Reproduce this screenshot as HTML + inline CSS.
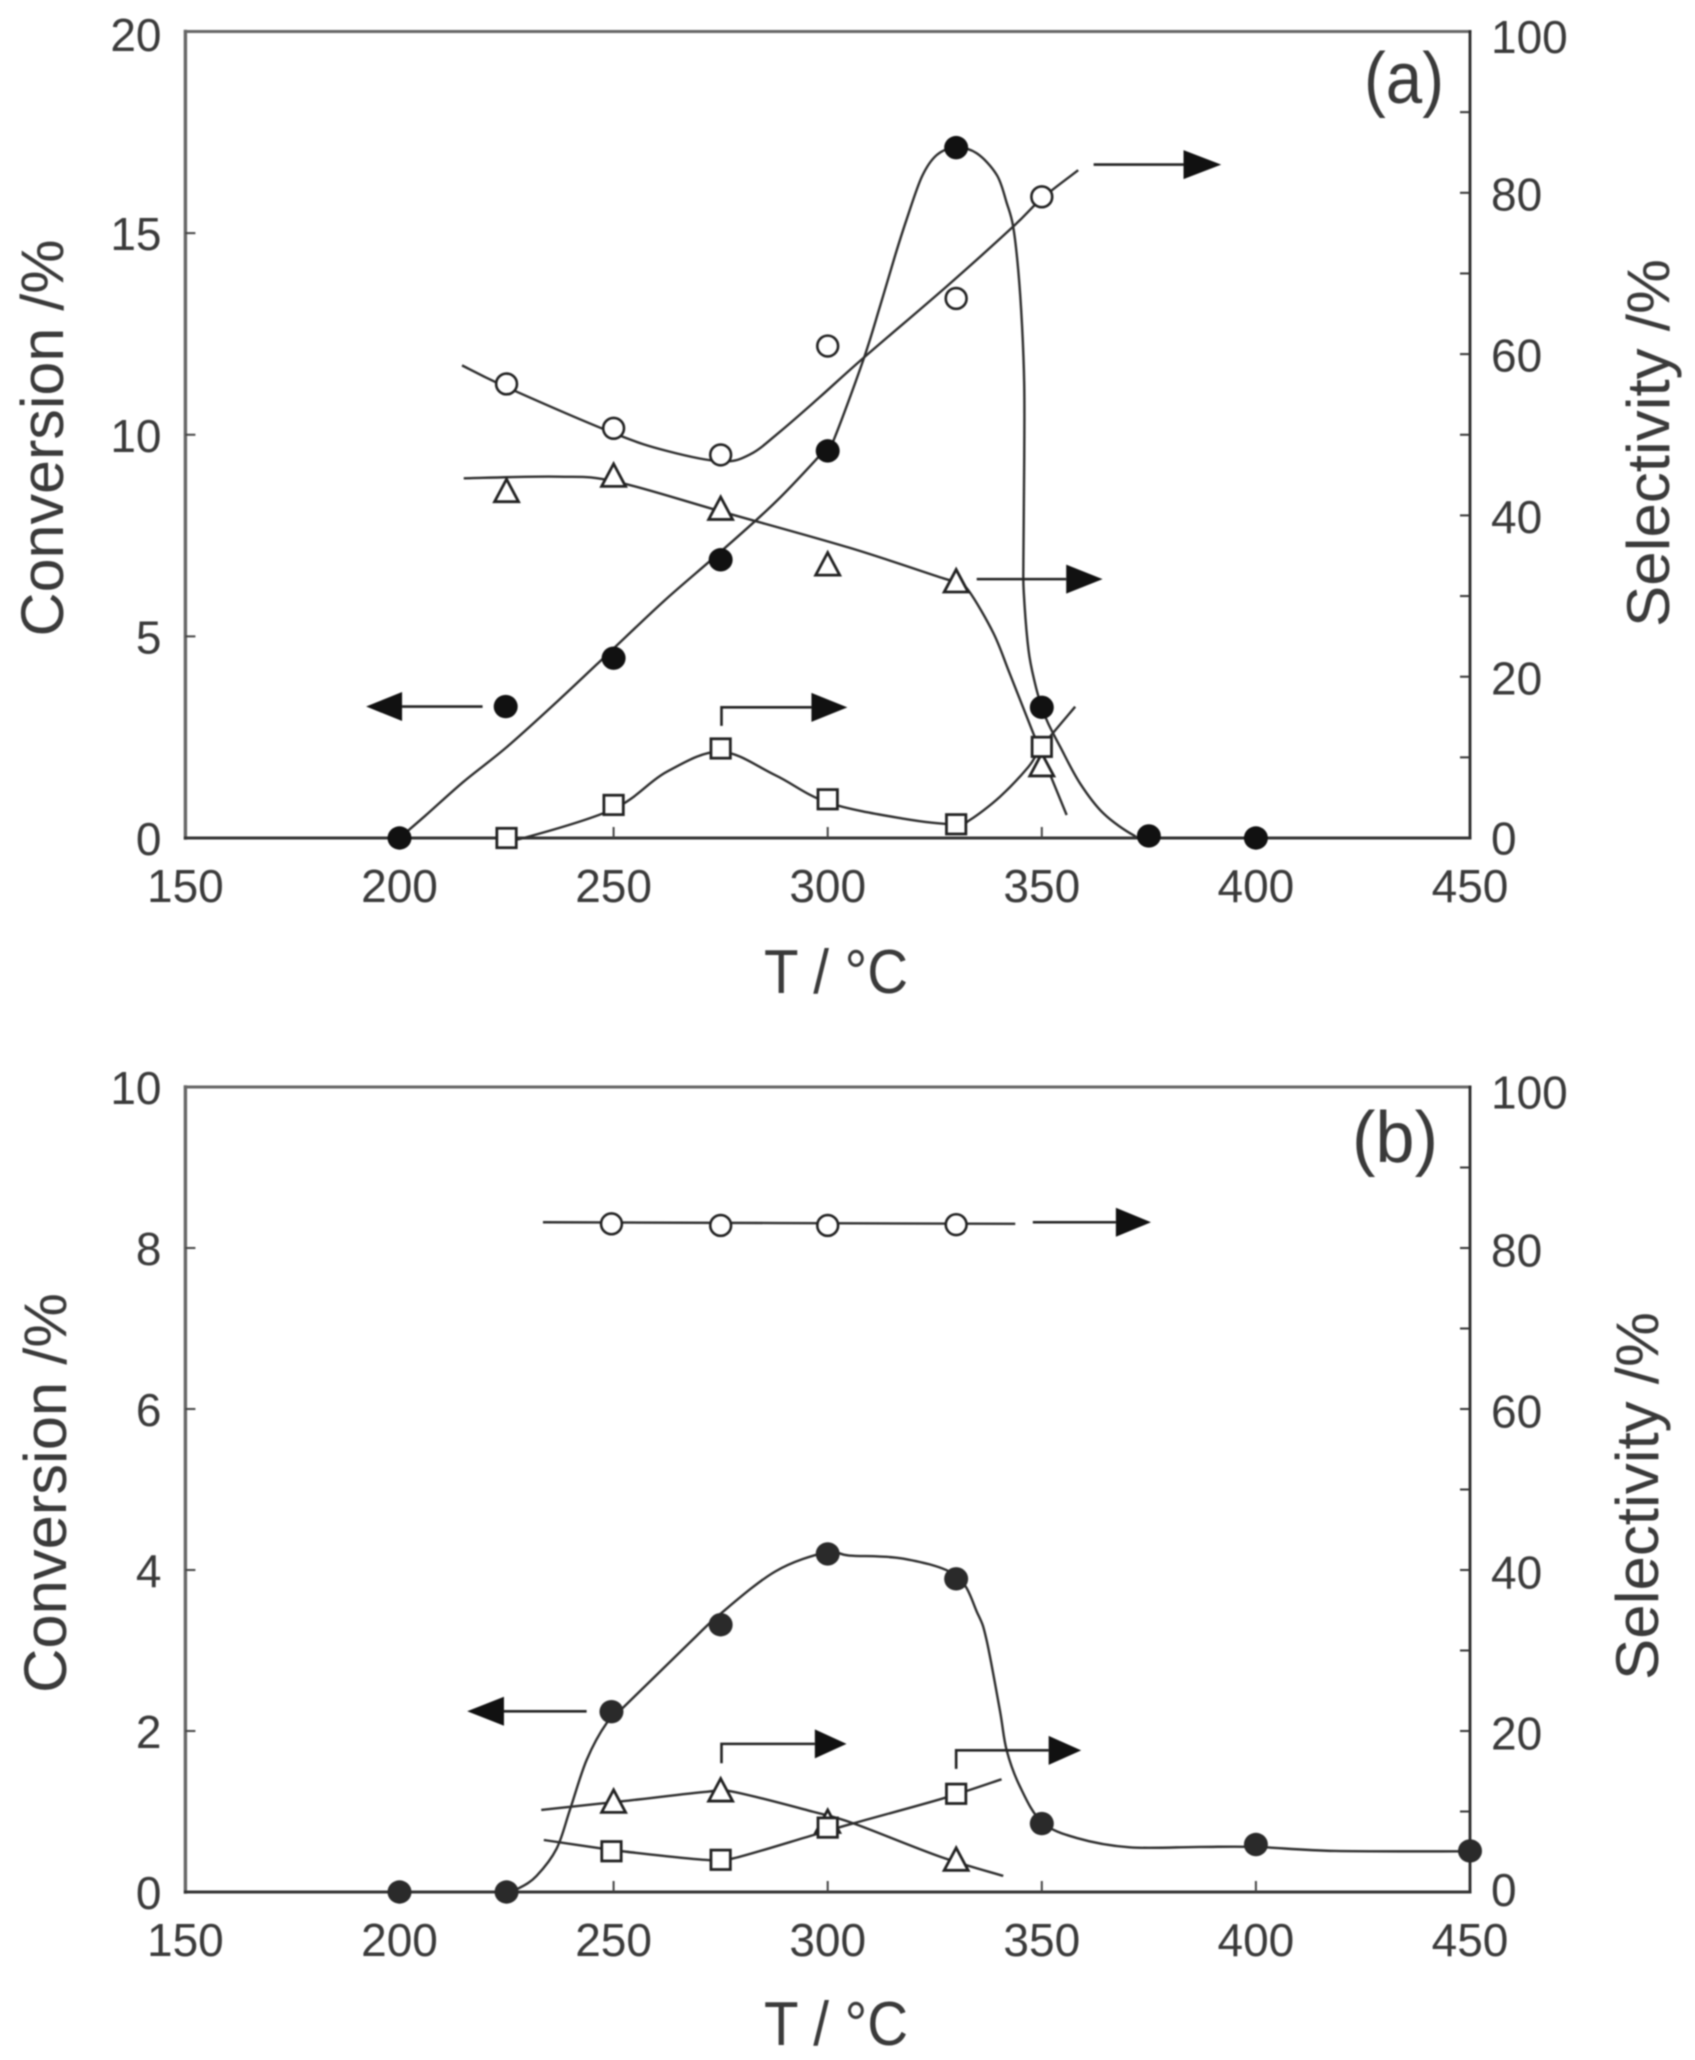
<!DOCTYPE html>
<html lang="en">
<head>
<meta charset="utf-8">
<title>Conversion and selectivity vs temperature</title>
<style>
  html, body { margin: 0; padding: 0; background: #fff; }
  body { width: 1695px; height: 2060px; overflow: hidden; }
  svg { display: block; filter: blur(0.7px); }
  text { font-family: "Liberation Sans", sans-serif; fill: #3a3a3a; }
</style>
</head>
<body>
<svg id="figure" xmlns="http://www.w3.org/2000/svg" width="1695" height="2060" viewBox="0 0 1695 2060">
  <rect x="0" y="0" width="1695" height="2060" fill="#fff"/>

  <text transform="translate(63,438) rotate(-90)" text-anchor="middle" font-size="60" textLength="397" lengthAdjust="spacingAndGlyphs">Conversion /%</text>
  <text transform="translate(1669,443) rotate(-90)" text-anchor="middle" font-size="60" textLength="368" lengthAdjust="spacingAndGlyphs">Selectivity /%</text>
  <text x="836" y="993" text-anchor="middle" font-size="62" textLength="144" lengthAdjust="spacingAndGlyphs">T / °C</text>
  <text x="1404" y="103" text-anchor="middle" font-size="72" textLength="80" lengthAdjust="spacingAndGlyphs">(a)</text>

  <text transform="translate(66,1493) rotate(-90)" text-anchor="middle" font-size="60" textLength="400" lengthAdjust="spacingAndGlyphs">Conversion /%</text>
  <text transform="translate(1658,1496) rotate(-90)" text-anchor="middle" font-size="60" textLength="368" lengthAdjust="spacingAndGlyphs">Selectivity /%</text>
  <text x="836" y="2045" text-anchor="middle" font-size="62" textLength="144" lengthAdjust="spacingAndGlyphs">T / °C</text>
  <text x="1395" y="1162" text-anchor="middle" font-size="72" textLength="86" lengthAdjust="spacingAndGlyphs">(b)</text>
</svg>

<script>
// ---- Axis tick labels ----
const xTickLabels = [150, 200, 250, 300, 350, 400, 450];
const xInnerTicks = [200, 250, 300, 350, 400];
const aLeftTicks = [0, 5, 10, 15, 20];
const bLeftTicks = [0, 2, 4, 6, 8, 10];
const rightTicks = [0, 20, 40, 60, 80, 100];
const rightMinorTicks = [10, 30, 50, 70, 90];

// ---- Panel (a) markers ----
const aConvT = [200, 250, 275, 300, 330, 350, 375, 400];
const aConvValues = [0, 4.46, 6.9, 9.6, 17.12, 3.24, 0.05, 0];
const aCircleT = [225, 250, 275, 300, 330, 350];
const aCircleValues = [56.3, 50.8, 47.5, 61, 66.9, 79.5];
const aTriangleT = [225, 250, 275, 300, 330, 350];
const aTriangleValues = [43, 44.9, 40.8, 33.9, 31.8, 9];
const aSquareT = [225, 250, 275, 300, 330, 350];
const aSquareValues = [0, 4.1, 11.1, 4.8, 1.7, 11.3];

// ---- Panel (a) fitted curves ----
const aConvCurveT = [200, 206, 215, 225, 237, 250, 262, 275, 288, 300, 301.7, 308.3, 312.2, 315.7, 318.4, 322, 325.5, 329.9, 334.8, 339.5, 341.8, 343.3, 344.5, 345.4, 345.9, 345.9, 345.7, 345.8, 346.9, 348.4, 350, 351.5, 354.3, 358.9, 364.4, 371.4, 375, 400];
const aConvCurveValues = [0, 0.55, 1.4, 2.25, 3.4, 4.7, 5.9, 7.1, 8.35, 9.7, 9.95, 11.85, 13.18, 14.43, 15.33, 16.4, 16.94, 17.12, 16.98, 16.44, 15.75, 15.17, 14.08, 12.68, 11.2, 9.46, 6.89, 6.07, 4.66, 3.84, 3.24, 2.84, 2.26, 1.36, 0.61, 0.07, 0, 0];
const aCircleCurveT = [214.6, 225, 250, 262.4, 275.2, 282, 288.9, 298, 308.3, 327.8, 343.3, 350, 358.5];
const aCircleCurveValues = [58.6, 55.9, 50.2, 48, 46.7, 47.6, 50.4, 54.6, 59.5, 68.4, 75.8, 79.3, 82.8];
const aTriangleCurveT = [215, 237, 250.4, 275.7, 305, 327, 330, 333, 338.7, 342.5, 348, 355.8];
const aTriangleCurveValues = [44.6, 44.8, 44.2, 40.4, 36, 32.2, 31.8, 30.6, 25.4, 20.4, 13, 2.85];
const aSquareCurveT = [225, 229, 250, 262.4, 275, 287.7, 300, 317.7, 330, 333.2, 340.2, 346.9, 350, 357.8];
const aSquareCurveValues = [0, 0, 3.6, 8.2, 10.7, 7.8, 4.4, 2.4, 1.7, 2.23, 5.1, 8.84, 11.32, 16.28];

// ---- Panel (b) markers ----
const bConvT = [200, 225, 249.5, 275, 300, 330, 350, 400, 450];
const bConvValues = [0, 0, 2.24, 3.32, 4.2, 3.89, 0.85, 0.59, 0.51];
const bCircleT = [249.5, 275, 300, 330];
const bCircleValues = [83, 82.8, 82.8, 82.9];
const bTriangleT = [250, 275, 300, 330];
const bTriangleValues = [11.2, 12.6, 8.7, 4];
const bSquareT = [249.5, 275, 300, 330];
const bSquareValues = [5.06, 4, 8, 12.2];

// ---- Panel (b) fitted curves ----
const bConvCurveT = [225, 228, 232, 236.7, 239.8, 243.7, 248.4, 252.4, 268, 274.6, 287.7, 299.7, 305, 317.7, 330, 335, 337.1, 340.2, 341.8, 344.9, 350, 358.2, 370.5, 386.9, 400, 418.5, 450];
const bConvCurveValues = [0, 0.05, 0.2, 0.54, 1.02, 1.64, 2.1, 2.3, 3.11, 3.44, 3.98, 4.22, 4.18, 4.14, 3.93, 3.46, 3.13, 2.26, 1.76, 1.31, 0.87, 0.67, 0.555, 0.56, 0.56, 0.51, 0.505];
const bCircleCurveT = [233.5, 343.8];
const bCircleCurveValues = [83.2, 83];
const bTriangleCurveT = [233.1, 253, 271.7, 278, 296.6, 306, 326.2, 341];
const bTriangleCurveValues = [10.2, 11.33, 12.45, 12.45, 9.97, 8.53, 4.4, 2];
const bSquareCurveT = [233.7, 246.9, 253, 271.7, 278, 296.6, 306, 327, 340.6];
const bSquareCurveValues = [6.46, 5.43, 5, 3.98, 4.18, 7.07, 8.53, 11.64, 14];

// ---- Drawing ----
const SVG_NS = 'http://www.w3.org/2000/svg';
const svg = document.getElementById('figure');
const plotLeft = 185.4;
const plotRight = 1470;
const xMin = 150;
const xMax = 450;

function node(tag, attrs, parent) {
  const el = document.createElementNS(SVG_NS, tag);
  for (const k in attrs) el.setAttribute(k, attrs[k]);
  (parent || svg).appendChild(el);
  return el;
}

function xScale(t) {
  return plotLeft + (t - xMin) * (plotRight - plotLeft) / (xMax - xMin);
}

function makePanel(top, bottom, leftMax) {
  return {
    top: top,
    bottom: bottom,
    yLeft: function (v) { return bottom - v * (bottom - top) / leftMax; },
    yRight: function (v) { return bottom - v * (bottom - top) / 100; }
  };
}

function smoothPath(ts, vs, yFn) {
  const p = ts.map(function (t, i) { return [xScale(t), yFn(vs[i])]; });
  let d = 'M' + p[0][0].toFixed(2) + ' ' + p[0][1].toFixed(2);
  for (let i = 0; i < p.length - 1; i++) {
    const p0 = p[Math.max(i - 1, 0)];
    const p1 = p[i];
    const p2 = p[i + 1];
    const p3 = p[Math.min(i + 2, p.length - 1)];
    const c1x = p1[0] + (p2[0] - p0[0]) / 6;
    const c1y = p1[1] + (p2[1] - p0[1]) / 6;
    const c2x = p2[0] - (p3[0] - p1[0]) / 6;
    const c2y = p2[1] - (p3[1] - p1[1]) / 6;
    d += 'C' + c1x.toFixed(2) + ' ' + c1y.toFixed(2) + ' ' + c2x.toFixed(2) + ' ' + c2y.toFixed(2) + ' ' + p2[0].toFixed(2) + ' ' + p2[1].toFixed(2);
  }
  return d;
}

function drawCurve(name, ts, vs, yFn) {
  const el = node('path', { d: smoothPath(ts, vs, yFn), fill: 'none', stroke: '#2e2e2e', 'stroke-width': 2.4 });
  
  
}

function drawMarkers(name, shape, ts, vs, yFn, fillColor) {
  ts.forEach(function (t, i) {
    const cx = xScale(t);
    const cy = yFn(vs[i]);
    let el;
    if (shape === 'circle') {
      el = node('ellipse', { cx: cx, cy: cy, rx: 10.4, ry: 10.4, fill: '#fff', stroke: '#222', 'stroke-width': 2.6 });
    } else if (shape === 'disc') {
      el = node('ellipse', { cx: cx, cy: cy, rx: 12, ry: 11.7, fill: fillColor });
    } else if (shape === 'square') {
      el = node('rect', { x: cx - 9.7, y: cy - 9.7, width: 19.4, height: 19.4, fill: '#fff', stroke: '#222', 'stroke-width': 2.8 });
    } else {
      const pts = (cx - 12) + ',' + (cy + 10.5) + ' ' + (cx + 12) + ',' + (cy + 10.5) + ' ' + cx + ',' + (cy - 12);
      el = node('polygon', { points: pts, fill: '#fff', stroke: '#222', 'stroke-width': 2.8, 'stroke-linejoin': 'miter' });
    }
    
    
  });
}

function drawArrow(name, tailT, baseT, tipT, level, yFn, elbowLevel) {
  const g = node('g', {});
  
  
  const y = yFn(level);
  let d = 'M' + xScale(tailT) + ' ' + y + 'L' + xScale(baseT) + ' ' + y;
  if (elbowLevel !== undefined) {
    d = 'M' + xScale(tailT) + ' ' + yFn(elbowLevel) + 'L' + xScale(tailT) + ' ' + y + 'L' + xScale(baseT) + ' ' + y;
  }
  node('path', { d: d, fill: 'none', stroke: '#222', 'stroke-width': 2.6 }, g);
  const bx = xScale(baseT);
  const pts = bx + ',' + (y - 14.5) + ' ' + bx + ',' + (y + 14.5) + ' ' + xScale(tipT) + ',' + y;
  node('polygon', { points: pts, fill: '#111' }, g);
}

function label(name, text, x, y, anchor) {
  const el = node('text', { x: x, y: y, 'text-anchor': anchor, 'font-size': 46, dy: '0.35em' });
  el.textContent = text;
  
  
}

function drawFrame(prefix, panel, leftTicks, leftMax, leftTopShift, rightShift, rightZeroShift) {
  const frame = [
    ['top', plotLeft, panel.top, plotRight, panel.top, '#666', 3],
    ['left', plotLeft, panel.top, plotLeft, panel.bottom, '#666', 3.4],
    ['right', plotRight, panel.top, plotRight, panel.bottom, '#2a2a2a', 2.8],
    ['bottom', plotLeft, panel.bottom, plotRight, panel.bottom, '#333', 3]
  ];
  frame.forEach(function (f) {
    const el = node('line', { x1: f[1], y1: f[2], x2: f[3], y2: f[4], stroke: f[5], 'stroke-width': f[6], 'stroke-linecap': 'square' });
    
    
  });
  xInnerTicks.forEach(function (t) {
    const el = node('line', { x1: xScale(t), y1: panel.bottom, x2: xScale(t), y2: panel.bottom - 11, stroke: '#444', 'stroke-width': 2 });
    
    
  });
  xTickLabels.forEach(function (t) {
    label(prefix + '-x-tick-label', String(t), xScale(t), panel.bottom + 48, 'middle');
  });
  leftTicks.forEach(function (v) {
    const y = panel.yLeft(v);
    if (v !== 0 && v !== leftMax) {
      const el = node('line', { x1: plotLeft, y1: y, x2: plotLeft + 10, y2: y, stroke: '#444', 'stroke-width': 2 });
      
      
    }
    label(prefix + '-left-tick-label', String(v), 161.5, y + 1 + (v === leftMax ? leftTopShift : 0), 'end');
  });
  rightTicks.forEach(function (v) {
    const y = panel.yRight(v);
    if (v !== 0 && v !== 100) {
      const el = node('line', { x1: plotRight, y1: y, x2: plotRight - 10, y2: y, stroke: '#333', 'stroke-width': 2 });
      
      
    }
    const shift = v === 100 ? 5.6 : (v === 0 ? rightZeroShift : rightShift);
    label(prefix + '-right-tick-label', String(v), 1491, y + shift, 'start');
  });
  rightMinorTicks.forEach(function (v) {
    const y = panel.yRight(v);
    const el = node('line', { x1: plotRight, y1: y, x2: plotRight - 10, y2: y, stroke: '#333', 'stroke-width': 2 });
    
    
  });
}

// Panel (a)
const panelA = makePanel(31.5, 838, 20);
drawFrame('panel-a', panelA, aLeftTicks, 20, 2.6, 1.5, 0.4);
drawCurve('panel-a-conversion-curve', aConvCurveT, aConvCurveValues, panelA.yLeft);
drawCurve('panel-a-circle-curve', aCircleCurveT, aCircleCurveValues, panelA.yRight);
drawCurve('panel-a-triangle-curve', aTriangleCurveT, aTriangleCurveValues, panelA.yRight);
drawCurve('panel-a-square-curve', aSquareCurveT, aSquareCurveValues, panelA.yRight);
drawMarkers('panel-a-circle-point', 'circle', aCircleT, aCircleValues, panelA.yRight);
drawMarkers('panel-a-triangle-point', 'triangle', aTriangleT, aTriangleValues, panelA.yRight);
drawMarkers('panel-a-square-point', 'square', aSquareT, aSquareValues, panelA.yRight);
drawMarkers('panel-a-conversion-point', 'disc', aConvT, aConvValues, panelA.yLeft, '#111');
drawMarkers('panel-a-conversion-key-marker', 'disc', [224.8], [3.26], panelA.yLeft, '#111');
drawArrow('panel-a-conversion-arrow', 219.4, 200.6, 192.2, 3.26, panelA.yLeft);
drawArrow('panel-a-square-arrow', 275.2, 296.2, 304.6, 16.2, panelA.yRight, 13.9);
drawArrow('panel-a-triangle-arrow', 334.8, 355.7, 364.2, 32.1, panelA.yRight);
drawArrow('panel-a-circle-arrow', 362.1, 383.1, 391.9, 83.5, panelA.yRight);

// Panel (b)
const panelB = makePanel(1087, 1892, 10);
drawFrame('panel-b', panelB, bLeftTicks, 10, 0, 2.5, -2);
drawCurve('panel-b-conversion-curve', bConvCurveT, bConvCurveValues, panelB.yLeft);
drawCurve('panel-b-circle-curve', bCircleCurveT, bCircleCurveValues, panelB.yRight);
drawCurve('panel-b-triangle-curve', bTriangleCurveT, bTriangleCurveValues, panelB.yRight);
drawCurve('panel-b-square-curve', bSquareCurveT, bSquareCurveValues, panelB.yRight);
drawMarkers('panel-b-circle-point', 'circle', bCircleT, bCircleValues, panelB.yRight);
drawMarkers('panel-b-triangle-point', 'triangle', bTriangleT, bTriangleValues, panelB.yRight);
drawMarkers('panel-b-square-point', 'square', bSquareT, bSquareValues, panelB.yRight);
drawMarkers('panel-b-conversion-point', 'disc', bConvT, bConvValues, panelB.yLeft, '#2a2a2a');
drawArrow('panel-b-conversion-arrow', 243.7, 224.4, 215.8, 2.245, panelB.yLeft);
drawArrow('panel-b-circle-arrow', 347.9, 367.3, 375.5, 83.2, panelB.yRight);
drawArrow('panel-b-square-arrow-first', 275.2, 297, 304.4, 18.4, panelB.yRight, 16);
drawArrow('panel-b-square-arrow-second', 330, 351.6, 359.2, 17.6, panelB.yRight, 15.3);
</script>
</body>
</html>
